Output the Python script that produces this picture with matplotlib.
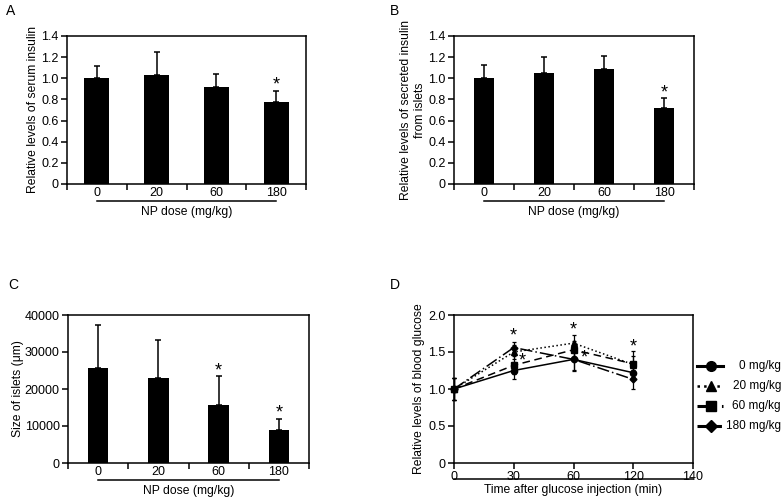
import matplotlib
matplotlib.use("Agg")
import matplotlib.pyplot as plt
import matplotlib.transforms as mtransforms
from matplotlib.lines import Line2D
import numpy as np

plt.rcParams['font.family'] = ['Liberation Sans', 'DejaVu Sans']
plt.rcParams['font.size'] = 8

# ---------------- data ----------------
doses = ['0', '20', '60', '180']
dose_label = 'NP dose (mg/kg)'

serum_insulin = [1.0, 1.03, 0.92, 0.78]
serum_insulin_err = [0.12, 0.22, 0.12, 0.10]
serum_sig = [False, False, False, True]

secreted_insulin = [1.0, 1.05, 1.09, 0.72]
secreted_insulin_err = [0.13, 0.15, 0.12, 0.09]
secreted_sig = [False, False, False, True]

islet_size = [25800, 23000, 15800, 8900]
islet_size_err = [11500, 10200, 7600, 3100]
islet_sig = [False, False, True, True]

times = ['0', '30', '60', '120']
time_ticks = ['0', '30', '60', '120', '140']
glu_names = ['0 mg/kg', '20 mg/kg', '60 mg/kg', '180 mg/kg']
glu_0 = [1.0, 1.25, 1.40, 1.22]
glu_20 = [1.0, 1.50, 1.62, 1.33]
glu_60 = [1.0, 1.32, 1.53, 1.34]
glu_180 = [1.0, 1.56, 1.40, 1.13]
glu_0_err = [0.15, 0.12, 0.15, 0.10]
glu_20_err = [0.15, 0.10, 0.11, 0.12]
glu_60_err = [0.15, 0.12, 0.12, 0.18]
glu_180_err = [0.15, 0.08, 0.14, 0.13]
# significance stars (time index, level, x-offset in px)
star_t = [1, 1, 2, 2, 3]
star_y = [1.73, 1.40, 1.81, 1.43, 1.58]
star_dx = [0, 6, 0, 8, 0]

# ---------------- figure ----------------
W, H = 783, 501
fig = plt.figure(figsize=(W / 100, H / 100), dpi=100)


def box(l, t, r, b):
    return [l / W, 1 - b / H, (r - l) / W, (b - t) / H]


LW = 1.1
TICK_FS = 9
LAB_FS = 8.7


def style_axes(ax):
    for s in ax.spines.values():
        s.set_linewidth(LW)
        s.set_color('black')
    ax.tick_params(axis='both', direction='out', length=4, width=LW, labelsize=TICK_FS, pad=2)


def bar_panel(ax, vals, errs, sig, ylim, yticks, yticklabels, ylabel, width, labelpad):
    x = np.arange(len(vals))
    ax.bar(x, vals, width=width, color='black', zorder=2)
    ax.errorbar(x, vals, yerr=[np.zeros(len(errs)), errs], fmt='none', ecolor='black',
                elinewidth=1.1, capsize=2, capthick=1.1, zorder=1)
    ax.set_xlim(-0.5, 3.5)
    ax.set_ylim(*ylim)
    ax.set_yticks(yticks)
    ax.set_yticklabels(yticklabels)
    ax.set_xticks(x)
    ax.set_xticklabels(doses)
    ax.set_xticks(np.arange(-0.5, 4.0, 1.0), minor=True)
    style_axes(ax)
    ax.tick_params(axis='x', which='major', length=0, pad=2.5)
    ax.tick_params(axis='x', which='minor', length=4, width=LW, direction='out')
    ax.set_ylabel(ylabel, fontsize=LAB_FS, labelpad=labelpad)
    for xi, v, e, s in zip(x, vals, errs, sig):
        if s:
            ax.annotate('*', (xi, v + e), xytext=(0, -2), textcoords='offset points',
                        ha='center', va='bottom', fontsize=13)
    trans = mtransforms.blended_transform_factory(ax.transData, ax.transAxes)
    ax.plot([0, 3], [-0.115, -0.115], color='black', lw=1.1, transform=trans, clip_on=False)
    ax.text(1.5, -0.19, dose_label, transform=trans, ha='center', va='center', fontsize=LAB_FS)


axA = fig.add_axes(box(67, 36, 306, 184))
bar_panel(axA, serum_insulin, serum_insulin_err, serum_sig, (0, 1.4),
          np.arange(0, 1.41, 0.2), ['0', '0.2', '0.4', '0.6', '0.8', '1.0', '1.2', '1.4'],
          'Relative levels of serum insulin', 0.42, 1.5)

axB = fig.add_axes(box(454, 36, 694, 184))
bar_panel(axB, secreted_insulin, secreted_insulin_err, secreted_sig, (0, 1.4),
          np.arange(0, 1.41, 0.2), ['0', '0.2', '0.4', '0.6', '0.8', '1.0', '1.2', '1.4'],
          'Relative levels of secreted insulin\nfrom islets', 0.34, 1.5)

axC = fig.add_axes(box(68, 315, 309, 463))
bar_panel(axC, islet_size, islet_size_err, islet_sig, (0, 40000),
          [0, 10000, 20000, 30000, 40000], ['0', '10000', '20000', '30000', '40000'],
          'Size of islets (\u03bcm)', 0.34, 0.5)

# ---------------- panel D ----------------
axD = fig.add_axes(box(454, 315, 693, 463))
tx = np.arange(len(times))
series = [glu_0, glu_20, glu_60, glu_180]
errs = [glu_0_err, glu_20_err, glu_60_err, glu_180_err]
styles = ['-', ':', (0, (5, 3)), (0, (8, 2, 1, 2))]
markers = ['o', '^', 's', 'D']
msizes = [4.5, 5, 4.5, 3.5]
for vals, er, ls, mk, ms in zip(series, errs, styles, markers, msizes):
    axD.errorbar(tx, vals, yerr=er, fmt='none', ecolor='black', elinewidth=0.9,
                 capsize=1.5, capthick=0.9, clip_on=False)
    axD.plot(tx, vals, color='black', linestyle=ls, lw=1.1, marker=mk, markersize=ms,
             clip_on=False)
for t, y, dx in zip(star_t, star_y, star_dx):
    axD.annotate('*', (t, y), xytext=(dx, -7), textcoords='offset points',
                 ha='center', va='bottom', fontsize=13)
axD.set_xlim(0, len(time_ticks) - 1)
axD.set_ylim(0, 2.0)
axD.set_xticks(np.arange(len(time_ticks)))
axD.set_xticklabels(time_ticks)
axD.set_yticks([0, 0.5, 1.0, 1.5, 2.0])
axD.set_yticklabels(['0', '0.5', '1.0', '1.5', '2.0'])
style_axes(axD)
axD.set_ylabel('Relative levels of blood glucose', fontsize=LAB_FS, labelpad=2.5)
axD.plot([0, 1], [-0.105, -0.105], color='black', lw=1.1, transform=axD.transAxes, clip_on=False)
axD.text(0.5, -0.18, 'Time after glucose injection (min)', transform=axD.transAxes,
         ha='center', va='center', fontsize=LAB_FS)

# legend (drawn manually, right-aligned text)
leg_rows = [366, 386, 406, 426]
leg_lw = [2.2, 1.8, 2.2, 2.2]
leg_ms = [7, 7, 7, 6]
for name, ls, mk, row, lw, ms in zip(glu_names, styles, markers, leg_rows, leg_lw, leg_ms):
    yf = 1 - row / H
    fig.add_artist(Line2D([697 / W, 723 / W], [yf, yf], transform=fig.transFigure,
                          color='black', lw=lw, linestyle=ls))
    fig.add_artist(Line2D([711 / W], [yf], transform=fig.transFigure, color='black',
                          marker=mk, markersize=ms, linestyle='none'))
    fig.text(781 / W, yf, name, ha='right', va='center', fontsize=8.5)

# panel letters
for lab, (px, py) in zip('ABCD', [(6, 11), (390, 11), (8, 285), (390, 285)]):
    fig.text(px / W, 1 - py / H, lab, ha='left', va='center', fontsize=10)

fig.savefig('out.png', dpi=100)
